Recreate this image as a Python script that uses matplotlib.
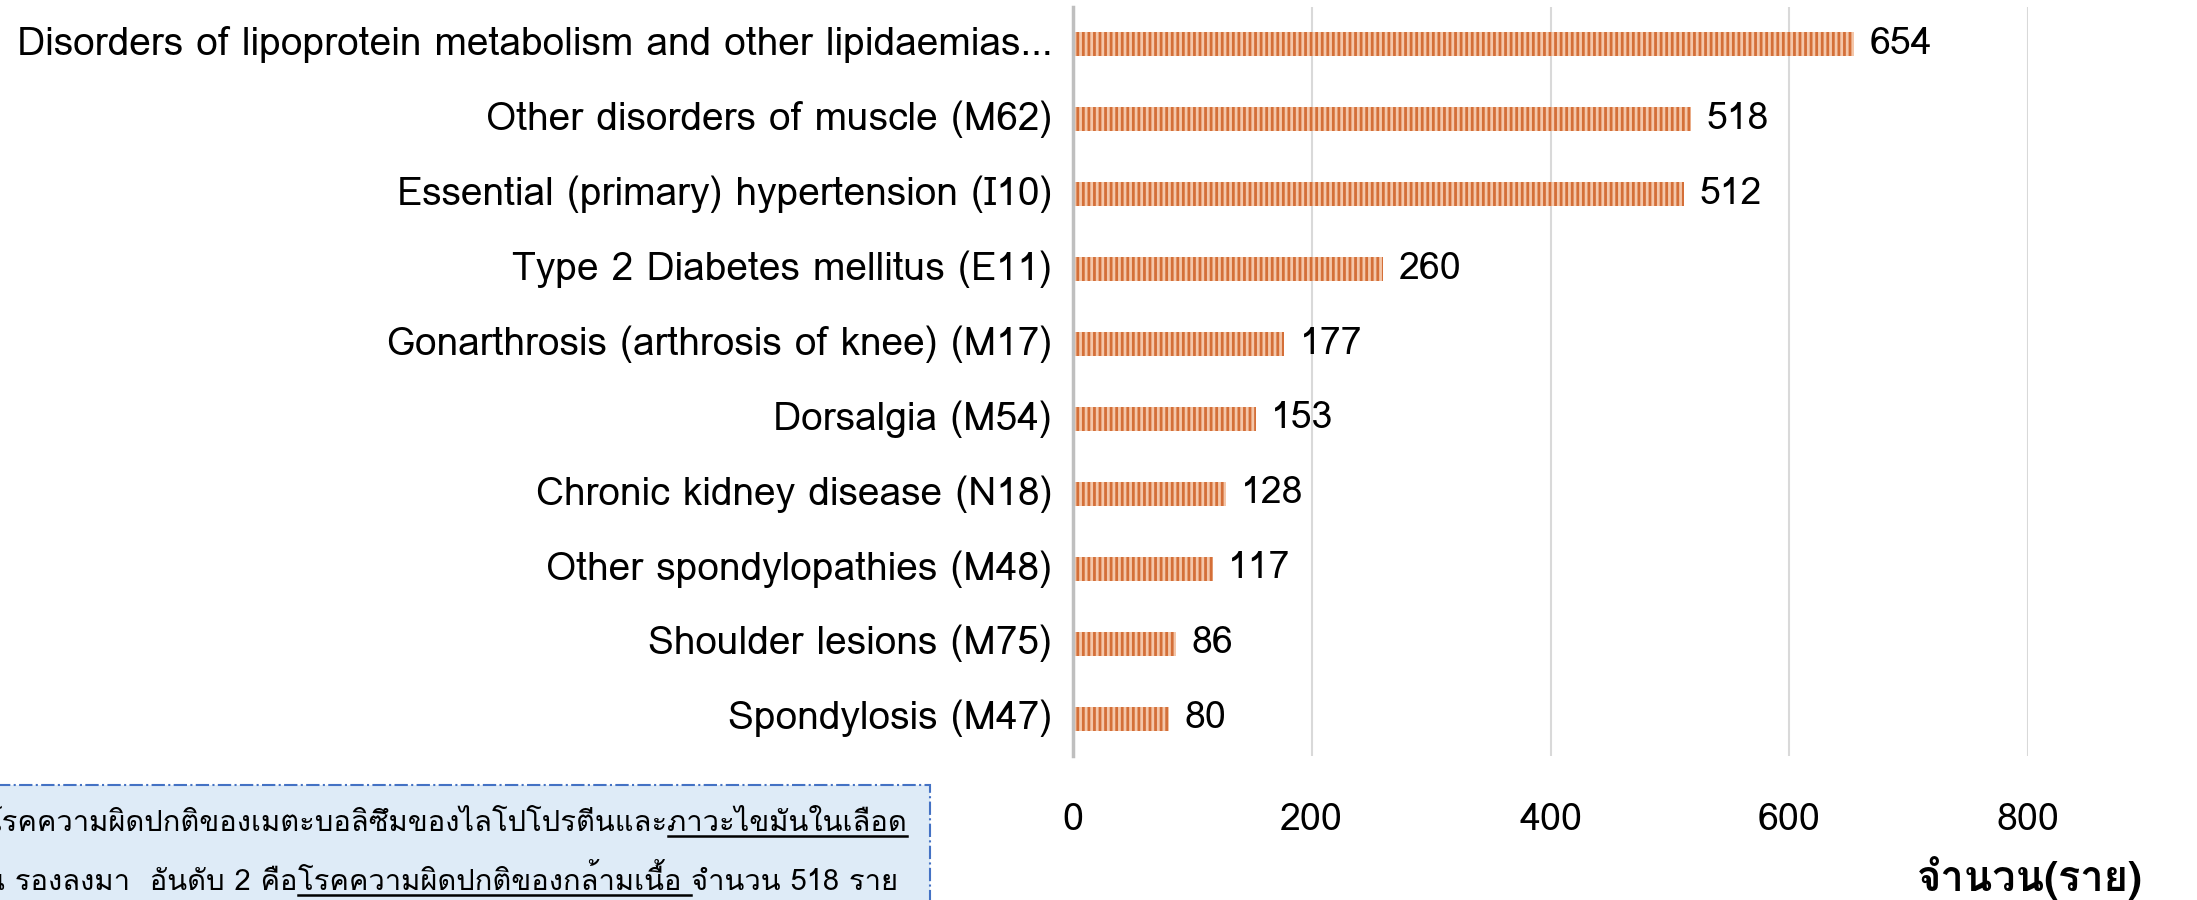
import matplotlib
matplotlib.use("Agg")
import matplotlib.pyplot as plt
from matplotlib import font_manager
from matplotlib.patches import Rectangle
from matplotlib.lines import Line2D

# data
diseases = [
    "Disorders of lipoprotein metabolism and other lipidaemias...",
    "Other disorders of muscle (M62)",
    "Essential (primary) hypertension (I10)",
    "Type 2 Diabetes mellitus (E11)",
    "Gonarthrosis (arthrosis of knee) (M17)",
    "Dorsalgia (M54)",
    "Chronic kidney disease (N18)",
    "Other spondylopathies (M48)",
    "Shoulder lesions (M75)",
    "Spondylosis (M47)",
]
counts = [654, 518, 512, 260, 177, 153, 128, 117, 86, 80]
xticks = [0, 200, 400, 600, 800]
xlabel = "จำนวน(ราย)"
note_line1 = [("โรคความผิดปกติของเมตะบอลิซึมของไลโปโปรตีนและ", False),
              ("ภาวะไขมันในเลือด", True)]
note_line2 = [("น รองลงมา  อันดับ 2 คือ", False),
              ("โรคความผิดปกติของกล้ามเนื้อ ", True),
              ("จำนวน 518 ราย", False)]


def pick(names):
    avail = {f.name for f in font_manager.fontManager.ttflist}
    for n in names:
        if n in avail:
            return n
    return "DejaVu Sans"


thai = pick(["Loma", "Noto Sans Thai", "Sarabun"])
plt.rcParams['font.family'] = [thai, "DejaVu Sans"]
plt.rcParams['hatch.linewidth'] = 2.0

W, H = 2197, 900
fig = plt.figure(figsize=(W / 100, H / 100), dpi=100)
ax = fig.add_axes([1073 / W, 1 - 756 / H, (2028 - 1073) / W, (756 - 7) / H])

ypos = list(range(len(diseases)))
ax.barh(ypos, counts, height=0.32, color="#D46F38", edgecolor="#F4C7AA",
        linewidth=0, hatch="|||", zorder=3)
for y, v in zip(ypos, counts):
    ax.text(v + 13, y, str(v), va="center", ha="left", fontsize=27, color="black")

ax.set_yticks(ypos)
ax.set_yticklabels(diseases, fontsize=28)
ax.set_ylim(len(diseases) - 0.5, -0.5)
ax.set_xlim(0, 800)
ax.set_xticks(xticks)
ax.set_xticklabels([str(t) for t in xticks], fontsize=27)
ax.tick_params(axis="y", length=0, pad=15)
ax.tick_params(axis="x", length=0, pad=34)
ax.grid(axis="x", color="#D9D9D9", linewidth=1.5, zorder=0)
for s in ["top", "right", "bottom"]:
    ax.spines[s].set_visible(False)
ax.spines["left"].set_color("#BFBFBF")
ax.spines["left"].set_linewidth(2.5)
ax.spines["left"].set_zorder(4)
for lab in ax.get_yticklabels():
    lab.set_verticalalignment("center")

fig.text(2030 / W, 1 - 878 / H, xlabel, fontsize=30, fontweight="bold",
         ha="center", va="center")

# note box, partly outside the canvas
fig.add_artist(Rectangle((-0.01, -0.05), 930 / W + 0.01, 0.05 + 1 - 785 / H,
                         transform=fig.transFigure, facecolor="#DEEBF7",
                         edgecolor="#4472C4", linestyle="-.", linewidth=1.5))

renderer = fig.canvas.get_renderer()
NOTE_FS = 21


def width(s):
    t1 = fig.text(0, 0, s + "ก", fontsize=NOTE_FS)
    t2 = fig.text(0, 0, "ก", fontsize=NOTE_FS)
    w = t1.get_window_extent(renderer).width - t2.get_window_extent(renderer).width
    t1.remove()
    t2.remove()
    return w


def draw_line(pieces, x0, base):
    x = x0
    for s, under in pieces:
        w = width(s)
        fig.text(x / W, 1 - base / H, s, fontsize=NOTE_FS, ha="left", va="baseline")
        if under:
            fig.add_artist(Line2D([x / W, (x + w) / W], [1 - (base + 5) / H] * 2,
                                  transform=fig.transFigure, color="black", linewidth=1.8))
        x += w


draw_line(note_line1, 2 - width("โ"), 831)
draw_line(note_line2, 15 - width("น "), 890)

fig.savefig("out.png", dpi=100)
